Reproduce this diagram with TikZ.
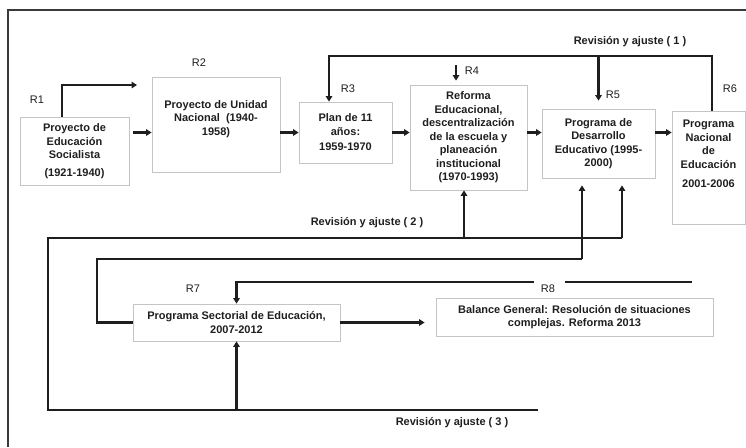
\documentclass[tikz,border=0pt]{standalone}
\usepackage{fontspec}
\setmainfont{Liberation Sans}
\usetikzlibrary{arrows.meta,positioning,calc}
\definecolor{ink}{HTML}{1E1E1E}
\definecolor{edge}{HTML}{C4C4C4}
\definecolor{frm}{HTML}{3A3A3A}
\tikzset{
  box/.style={draw=edge,line width=0.8pt,align=center,inner sep=2pt,text=ink,
    font=\bfseries\fontsize{11}{13.5}\selectfont},
  lbl/.style={text=ink,font=\fontsize{11}{12}\selectfont,inner sep=1pt},
  rev/.style={text=ink,font=\bfseries\fontsize{11}{12}\selectfont,inner sep=1pt},
  ln/.style={draw=ink,line width=2.4pt},
  ar/.style={ln,-{Triangle[length=5.5pt,width=6.5pt]}},
}

\begin{document}
\begin{tikzpicture}[x=1pt,y=-1pt]
  \useasboundingbox (0,0) rectangle (746,447);
  % frame
  \draw[frm,line width=1.3pt] (746,10) -- (8,10) -- (8,447);

  % stages
  \node[box,minimum width=109,minimum height=68] (R1) at (74.5,151)
    {Proyecto de\\Educación\\Socialista\\[4pt](1921-1940)};
  \node[box,minimum width=128,minimum height=95] (R2) at (216,124.5)
    {Proyecto de Unidad\\Nacional~ (1940-\\1958)\\\mbox{}};
  \node[box,minimum width=93,minimum height=61] (R3) at (345.5,132.5)
    {Plan de 11\\años:\\[2pt]1959-1970};
  \node[box,minimum width=117,minimum height=105] (R4) at (468.5,137.5)
    {Reforma\\Educacional,\\descentralización\\de la escuela y\\planeación\\institucional\\(1970-1993)};
  \node[box,minimum width=113,minimum height=69] (R5) at (598.5,143.5)
    {Programa de\\Desarrollo\\Educativo (1995-\\2000)};
  \node[box,minimum width=73,minimum height=113] (R6) at (708.5,167.5)
    {Programa\\Nacional\\de\\Educación\\[6pt]2001-2006\\\mbox{}\\\mbox{}};
  \node[box,minimum width=207,minimum height=37] (R7) at (236.5,322.5)
    {Programa Sectorial de Educación,\\2007-2012};
  \node[box,minimum width=277,minimum height=38] (R8) at (574.5,317)
    {Balance General: Resolución de situaciones\\complejas. Reforma 2013};

  % stage labels
  \node[lbl] (l1) at (37,100) {R1};
  \node[lbl] (l2) at (199,63) {R2};
  \node[lbl] (l3) at (348,89) {R3};
  \node[lbl] (l4) at (472,71) {R4};
  \node[lbl] (l5) at (613,95) {R5};
  \node[lbl] (l6) at (730,89) {R6};
  \node[lbl] (l7) at (193,289) {R7};
  \node[lbl] (l8) at (548,289) {R8};
  \node[rev] (v1) at (630,42) {Revisión y ajuste ( 1 )};
  \node[rev] (v2) at (367,223) {Revisión y ajuste ( 2 )};
  \node[rev] (v3) at (452,423) {Revisión y ajuste ( 3 )};

  % main sequence
  \coordinate (t1) at (137,85);
  \draw[ar] ([xshift=-12.5pt]R1.north) |- (t1);
  \draw[ar] ([xshift=4pt]R1.east |- R3) -- (R2.west |- R3);
  \draw[ar] (R2.east |- R3) -- (R3.west);
  \draw[ar] (R3.east) -- (R4.west |- R3);
  \draw[ar] (R4.east |- R3) -- (R5.west |- R3);
  \draw[ar] (R5.east |- R3) -- (R6.west |- R3);

  % review loop 1
  \coordinate (top1) at (329,56);
  \coordinate (r4in) at (456,65);
  \draw[ar] ([xshift=3.5pt]R6.north) |- (top1) -- (top1 |- R3.north);
  \draw[ar] (top1 -| R5) -- ([yshift=8pt]R5.north);
  \draw[ar] (r4in) -- ([yshift=4pt]R4.north -| r4in);

  % review loop 2
  \coordinate (a2) at (48,238);
  \coordinate (b2) at (622,238);
  \coordinate (c2) at (464,238);
  \coordinate (a4) at (97,259);
  \coordinate (b4) at (582,259);
  \draw[ln] (R7.west) -- (R7.west -| a4) -- (a4) -- (b4);
  \draw[ar,shorten >=7pt] (b2) -- (b2 |- R5.south);
  \draw[ar,shorten >=7pt] (b4) -- (b4 |- R5.south);
  \draw[ar] (c2) -- (c2 |- R4.south);

  % review loop 3
  \coordinate (a3) at (48,410);
  \coordinate (b3) at (538,410);
  \coordinate (g1) at (534,282);
  \coordinate (g2) at (565,282);
  \coordinate (e5) at (692,282);
  \draw[ln] (b2) -- (a2) -- (a3) -- (b3);
  \draw[ar] (a3 -| R7) -- (R7.south);
  \draw[ar] (g1) -| (R7.north);
  \draw[ln] (g2) -- (e5);
  \draw[ar,shorten >=11pt] (R7.east) -- (R7.east -| R8.west);
\end{tikzpicture}
\end{document}
